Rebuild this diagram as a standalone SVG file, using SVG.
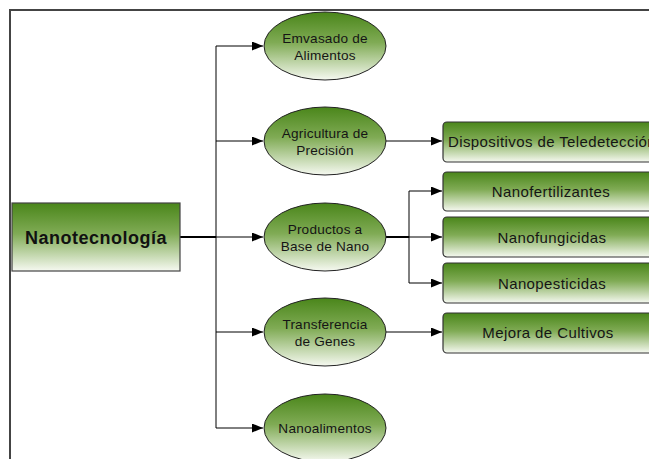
<svg xmlns="http://www.w3.org/2000/svg" width="649" height="459" viewBox="0 0 649 459">
  <defs>
    <linearGradient id="greenFade" x1="0" y1="0" x2="0" y2="1">
      <stop offset="0" stop-color="#4a861a"/>
      <stop offset="0.45" stop-color="#80ab55"/>
      <stop offset="1" stop-color="#f6f9f1"/>
    </linearGradient>
    <marker id="arrow" markerWidth="12" markerHeight="9" refX="11" refY="4.5" orient="auto" markerUnits="userSpaceOnUse">
      <path d="M0,0 L11,4.5 L0,9 Z" fill="#000"/>
    </marker>
    <style>
      .frame { fill: #fff; stroke: #444; stroke-width: 2; }
      .oval { fill: url(#greenFade); stroke: #222; stroke-width: 1; }
      .box { fill: url(#greenFade); stroke: #333; stroke-width: 1.2; }
      .root { fill: url(#greenFade); stroke: #444; stroke-width: 1.2; }
      .edge { fill: none; stroke: #000; stroke-width: 1; }
      .thick { fill: none; stroke: #000; stroke-width: 2; }
      .t { font-family: "Liberation Sans", Arial, sans-serif; fill: #151515; text-anchor: middle; }
      .small { font-size: 13.6px; letter-spacing: 0.2px; }
      .mid { font-size: 15px; letter-spacing: 0.4px; }
      .big { font-size: 18px; font-weight: bold; letter-spacing: 0.5px; fill: #111; }
    </style>
  </defs>

  <rect width="649" height="459" fill="#fff"/>
  <rect class="frame" x="10" y="10" width="660" height="470"/>

  <g id="connectors">
    <path class="thick" d="M180,237 H216"/>
    <path class="edge" d="M216,46 V428"/>
    <path class="edge" d="M216,46 H263" marker-end="url(#arrow)"/>
    <path class="edge" d="M216,141 H263" marker-end="url(#arrow)"/>
    <path class="edge" d="M216,237 H263" marker-end="url(#arrow)"/>
    <path class="edge" d="M216,332 H263" marker-end="url(#arrow)"/>
    <path class="edge" d="M216,428 H263" marker-end="url(#arrow)"/>
    <path class="edge" d="M386,141 H442" marker-end="url(#arrow)"/>
    <path class="thick" d="M386,237 H409"/>
    <path class="edge" d="M409,191 V283"/>
    <path class="edge" d="M409,191 H442" marker-end="url(#arrow)"/>
    <path class="edge" d="M409,237 H442" marker-end="url(#arrow)"/>
    <path class="edge" d="M409,283 H442" marker-end="url(#arrow)"/>
    <path class="edge" d="M386,332 H442" marker-end="url(#arrow)"/>
  </g>

  <g id="nanotecnologia">
    <rect class="root" x="12" y="203" width="168" height="68"/>
    <text class="t big" x="96" y="244">Nanotecnología</text>
  </g>

  <g id="emvasado">
    <ellipse class="oval" cx="325" cy="46" rx="61" ry="34"/>
    <text class="t small" x="325" y="43">Emvasado de</text>
    <text class="t small" x="325" y="60">Alimentos</text>
  </g>

  <g id="agricultura">
    <ellipse class="oval" cx="325" cy="141" rx="61" ry="34"/>
    <text class="t small" x="325" y="138">Agricultura de</text>
    <text class="t small" x="325" y="155">Precisión</text>
  </g>

  <g id="productos">
    <ellipse class="oval" cx="325" cy="237" rx="61" ry="34"/>
    <text class="t small" x="325" y="234">Productos a</text>
    <text class="t small" x="325" y="251">Base de Nano</text>
  </g>

  <g id="transferencia">
    <ellipse class="oval" cx="325" cy="332" rx="61" ry="34"/>
    <text class="t small" x="325" y="329">Transferencia</text>
    <text class="t small" x="325" y="346">de Genes</text>
  </g>

  <g id="nanoalimentos">
    <ellipse class="oval" cx="325" cy="428" rx="61" ry="34"/>
    <text class="t small" x="325" y="433">Nanoalimentos</text>
  </g>

  <g id="dispositivos">
    <rect class="box" x="443" y="122" width="220" height="40" rx="4"/>
    <text class="t mid" x="448" y="147" style="text-anchor:start">Dispositivos de Teledetección</text>
  </g>

  <g id="nanofertilizantes">
    <rect class="box" x="443" y="172" width="220" height="39" rx="4"/>
    <text class="t mid" x="551" y="197">Nanofertilizantes</text>
  </g>

  <g id="nanofungicidas">
    <rect class="box" x="443" y="217" width="220" height="40" rx="4"/>
    <text class="t mid" x="552" y="243">Nanofungicidas</text>
  </g>

  <g id="nanopesticidas">
    <rect class="box" x="443" y="263" width="220" height="40" rx="4"/>
    <text class="t mid" x="552" y="289">Nanopesticidas</text>
  </g>

  <g id="mejora">
    <rect class="box" x="443" y="313" width="220" height="40" rx="4"/>
    <text class="t mid" x="548" y="338">Mejora de Cultivos</text>
  </g>
</svg>
